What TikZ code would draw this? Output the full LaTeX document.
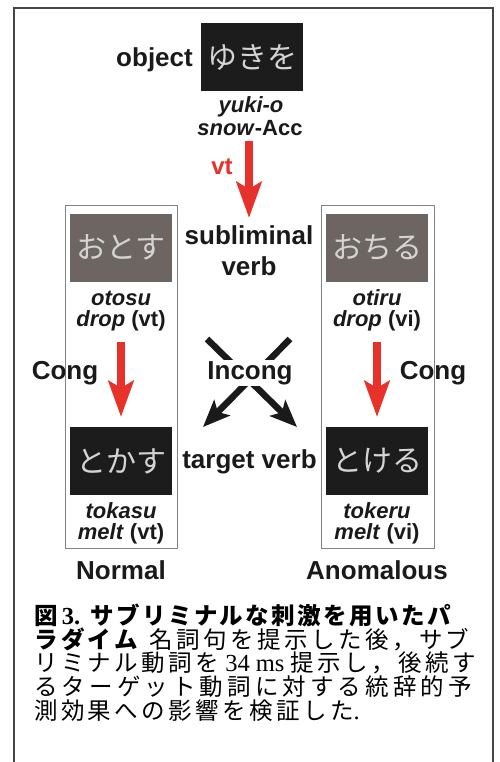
\documentclass[tikz,border=0pt]{standalone}
\usepackage{fontspec}
\setmainfont{Liberation Sans}
\newfontfamily\cjk{Noto Sans CJK JP}
\newfontfamily\cjkA[LetterSpace=10.5]{Noto Sans CJK JP}
\newfontfamily\cjkB[LetterSpace=14.5]{Noto Sans CJK JP}
\newfontfamily\cjkC[LetterSpace=17.5]{Noto Sans CJK JP}
\newfontfamily\capserif{Liberation Serif}
\usetikzlibrary{arrows.meta}
\definecolor{txt}{RGB}{26,26,26}
\definecolor{boxblack}{RGB}{28,28,28}
\definecolor{boxgrey}{RGB}{108,101,97}
\definecolor{jtxt}{RGB}{212,212,212}
\definecolor{arrred}{RGB}{230,50,42}
\definecolor{framegrey}{RGB}{130,130,130}
\definecolor{outer}{RGB}{70,70,70}
\tikzset{
  lbl/.style={inner sep=0pt, text=txt, font=\bfseries\fontsize{26}{28}\selectfont},
  ilbl/.style={inner sep=0pt, text=txt, font=\bfseries\fontsize{22}{24}\selectfont},
  jbox/.style={inner sep=0pt, minimum width=102pt, minimum height=68pt, text=jtxt, font=\cjk\fontsize{30}{32}\selectfont},
  panel/.style={draw=framegrey, line width=1pt, minimum width=112pt, minimum height=343pt, inner sep=0pt},
  redarr/.style={draw=arrred, line width=8pt, -{Stealth[length=36pt,width=25pt,inset=7pt]}},
  blackarr/.style={draw=txt, line width=6.5pt, -{Stealth[length=27pt,width=22pt,inset=6pt]}},
  caption/.style={inner sep=0pt, anchor=west, text=black}
}
\newcommand{\capfs}{\fontsize{23.5}{25}\selectfont}
\newcommand{\latinpart}[1]{{\capserif\fontsize{24.5}{25}\selectfont #1}}
\begin{document}
\begin{tikzpicture}[x=1pt,y=-1pt]
\useasboundingbox (0,0) rectangle (499,762);
\fill[white] (0,0) rectangle (499,762);
% outer frame (bottom edge lies below the page)
\draw[outer, line width=1.5pt] (14,780) -- (14,8) -- (493,8) -- (493,780);

% top object
\node[lbl, anchor=east] (obj) at (193,60) {object};
\node[jbox, fill=boxblack] (yuki) at (252,57) {ゆきを};
\node[ilbl] (yukio) at (251,107) {\itshape yuki-o};
\node[ilbl] (snow) at (250,128) {\textit{snow}-Acc};
\coordinate (vts) at (249,141);
\coordinate (vte) at (249,218);
\draw[redarr] (vts) -- (vte);
\node[lbl, text=arrred, font=\bfseries\fontsize{24}{26}\selectfont] (vt) at (222,167) {vt};

% center labels
\node[lbl] (sub) at (249,235) {subliminal};
\node[lbl] (verb) at (249,266) {verb};
\node[lbl] (target) at (249.5,462) {target verb};

% left panel
\node[panel] (lframe) at (121,376.5) {};
\node[jbox, fill=boxgrey] (otosu) at (121,247.5) {おとす};
\node[ilbl] (otosur) at (121,298) {\itshape otosu};
\node[ilbl] (otosug) at (121,321) {\textit{drop} (vt)};
\coordinate (lcs) at (121,342);
\coordinate (lce) at (121,417);
\draw[redarr] (lcs) -- (lce);
\node[lbl] (lcong) at (65,373) {Cong};
\node[jbox, fill=boxblack] (tokasu) at (121,461) {とかす};
\node[ilbl] (tokasur) at (121,511) {\itshape tokasu};
\node[ilbl] (tokasug) at (121,534) {\textit{melt} (vt)};
\node[lbl] (normal) at (121,570) {Normal};

% right panel
\node[panel, minimum width=113pt] (rframe) at (377.5,376.5) {};
\node[jbox, fill=boxgrey] (otiru) at (377,247.5) {おちる};
\node[ilbl] (otirur) at (377,298) {\itshape otiru};
\node[ilbl] (otirug) at (377,321) {\textit{drop} (vi)};
\coordinate (rcs) at (377,342);
\coordinate (rce) at (377,417);
\draw[redarr] (rcs) -- (rce);
\node[lbl] (rcong) at (433,373) {Cong};
\node[jbox, fill=boxblack] (tokeru) at (377,461) {とける};
\node[ilbl] (tokerur) at (377,511) {\itshape tokeru};
\node[ilbl] (tokerug) at (377,534) {\textit{melt} (vi)};
\node[lbl] (anom) at (377,570) {Anomalous};

% incongruent cross
\coordinate (xa1) at (207,339);
\coordinate (xa2) at (297,427);
\coordinate (xb1) at (290,339);
\coordinate (xb2) at (203,427);
\draw[blackarr] (xa1) -- (xa2);
\draw[blackarr] (xb1) -- (xb2);
\node[lbl, fill=white, inner ysep=1.5pt, inner xsep=1pt] (incong) at (250,373) {Incong};

% caption
\node[caption] (c1) at (34,615) {\cjkA\capfs\bfseries 図\latinpart{\bfseries\,3.}\hspace{10pt}サブリミナルな刺激を用いたパ};
\node[caption] (c2) at (34,639) {\cjkB\capfs{\bfseries ラダイム}\hspace{12pt}名詞句を提示した後，サブ};
\node[caption] (c3) at (34,663) {\cjkB\capfs リミナル動詞を\latinpart{\ 34 ms\ }提示し，後続す};
\node[caption] (c4) at (34,687) {\cjkC\capfs るターゲット動詞に対する統辞的予};
\node[caption] (c5) at (34,711) {\cjkB\capfs 測効果への影響を検証した\latinpart{.}};
\end{tikzpicture}
\end{document}
